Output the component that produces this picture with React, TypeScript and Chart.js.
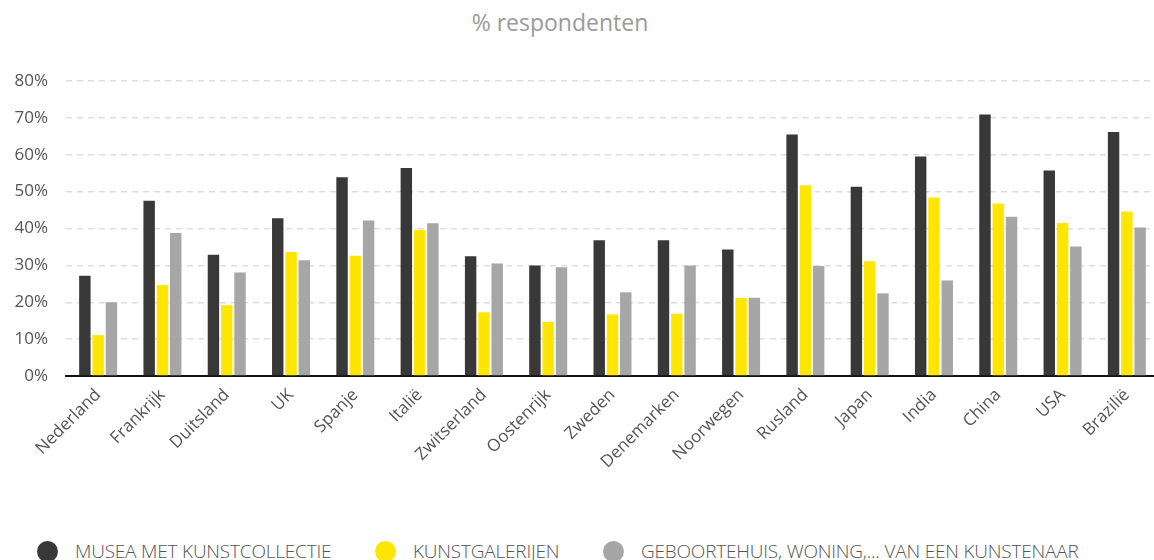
import React, { useEffect, useRef } from "react";
import { Chart, registerables } from "chart.js";

Chart.register(...registerables);

const categories = [
  "Nederland", "Frankrijk", "Duitsland", "UK", "Spanje", "Italië", "Zwitserland",
  "Oostenrijk", "Zweden", "Denemarken", "Noorwegen", "Rusland", "Japan", "India",
  "China", "USA", "Brazilië",
];

const musea = [27.2, 47.5, 32.9, 42.8, 53.9, 56.4, 32.5, 30.0, 36.8, 36.8, 34.3, 65.5, 51.3, 59.5, 70.9, 55.7, 66.2];
const galerijen = [11.1, 24.7, 19.2, 33.6, 32.6, 39.6, 17.3, 14.7, 16.7, 16.9, 21.2, 51.7, 31.1, 48.4, 46.8, 41.5, 44.6];
const geboortehuis = [20.0, 38.8, 28.1, 31.4, 42.2, 41.4, 30.5, 29.5, 22.7, 30.0, 21.2, 29.8, 22.4, 25.9, 43.2, 35.1, 40.3];

const seriesNames = [
  "MUSEA MET KUNSTCOLLECTIE",
  "KUNSTGALERIJEN",
  "GEBOORTEHUIS, WONING,... VAN EEN KUNSTENAAR",
];
const seriesColors = ["#383838", "#FFE600", "#A6A6A6"];

const yTicks = [0, 10, 20, 30, 40, 50, 60, 70, 80];
const titleText = "% respondenten";

const CANVAS_W = 1159;
const CANVAS_H = 480;

export default function App() {
  const ref = useRef<HTMLCanvasElement | null>(null);

  useEffect(() => {
    if (!ref.current) return;
    const chart = new Chart(ref.current, {
      type: "bar",
      data: {
        labels: categories,
        datasets: [musea, galerijen, geboortehuis].map((d, i) => ({
          label: seriesNames[i],
          data: d,
          backgroundColor: seriesColors[i],
          borderWidth: 0,
          categoryPercentage: 0.62,
          barPercentage: 0.86,
        })),
      },
      options: {
        animation: false,
        responsive: false,
        devicePixelRatio: 1,
        layout: { padding: { top: 81, right: 0, bottom: 0, left: 0 } },
        plugins: {
          legend: { display: false },
          title: { display: false },
          tooltip: { enabled: false },
        },
        scales: {
          x: {
            grid: { display: false, drawTicks: false },
            border: { display: true, color: "#111", width: 2 },
            ticks: {
              minRotation: 45,
              maxRotation: 45,
              color: "#555",
              padding: 9,
              font: { family: "'Open Sans'", size: 17 },
            },
            afterFit: (s: any) => {
              s.height = CANVAS_H - 376;
            },
          },
          y: {
            min: 0,
            max: 80,
            afterBuildTicks: (s: any) => {
              s.ticks = yTicks.map((v) => ({ value: v }));
            },
            grid: { color: "#dddddd", lineWidth: 1.5, drawTicks: false },
            border: { display: false, dash: [6, 5] },
            ticks: {
              color: "#555",
              padding: 18,
              font: { family: "'Open Sans'", size: 17 },
              callback: (v: any) => `${v}%`,
            },
            afterFit: (s: any) => {
              s.width = 66;
            },
          },
        },
      },
    });
    return () => chart.destroy();
  }, []);

  const legendX = [37, 375, 603];

  return (
    <div
      style={{
        position: "fixed",
        left: 0,
        top: 0,
        width: CANVAS_W,
        height: 560,
        background: "#fff",
        overflow: "hidden",
        fontFamily: "'Open Sans', sans-serif",
      }}
    >
      <div
        style={{
          position: "absolute",
          left: 0,
          top: 6,
          width: 1120,
          textAlign: "center",
          fontSize: 23,
          color: "#9a9a9a",
          fontWeight: 400,
        }}
      >
        {titleText}
      </div>
      <canvas
        ref={ref}
        width={CANVAS_W}
        height={CANVAS_H}
        style={{ position: "absolute", left: 0, top: 0, width: CANVAS_W, height: CANVAS_H }}
      />
      {seriesNames.map((name, i) => (
        <div
          key={name}
          style={{
            position: "absolute",
            left: legendX[i],
            top: 538,
            display: "flex",
            alignItems: "center",
            whiteSpace: "nowrap",
          }}
        >
          <span
            style={{
              display: "inline-block",
              width: 21,
              height: 21,
              borderRadius: "50%",
              background: seriesColors[i],
              marginRight: 17,
            }}
          />
          <span style={{ fontSize: 19, color: "#555", fontWeight: 300, letterSpacing: -0.2 }}>{name}</span>
        </div>
      ))}
    </div>
  );
}
